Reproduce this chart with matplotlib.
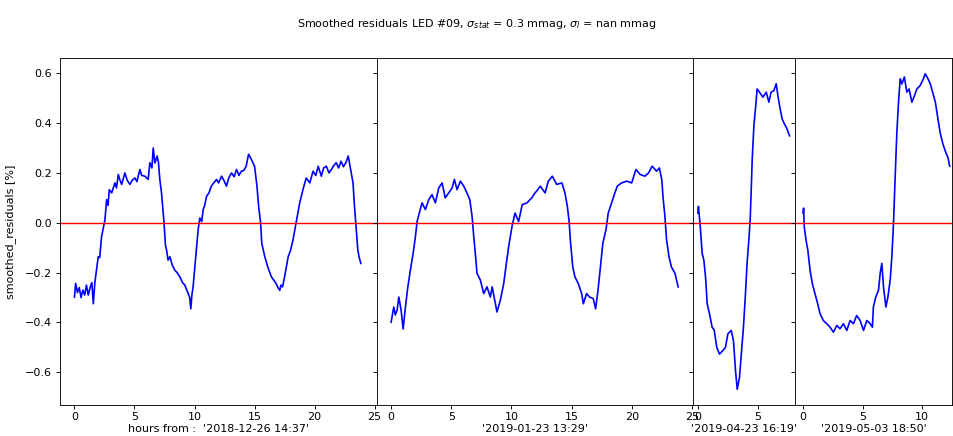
import matplotlib
matplotlib.use('Agg')
import matplotlib.pyplot as plt
from matplotlib.ticker import MultipleLocator

# hours since start of each run and smoothed residuals [%]
h1 = [0.0, 0.1, 0.25, 0.4, 0.55, 0.7, 0.85, 1.0, 1.15, 1.3, 1.45, 1.57, 1.7, 1.98, 2.1,
      2.26, 2.54, 2.68, 2.8, 2.9, 3.1, 3.37, 3.5, 3.65, 3.8, 3.93, 4.2, 4.4, 4.62, 4.8,
      5.03, 5.2, 5.45, 5.6, 5.87, 6.14, 6.28, 6.45, 6.56, 6.7, 6.89, 7.0, 7.11, 7.25, 7.44,
      7.58, 7.67, 7.8, 7.95, 8.15, 8.36, 8.55, 8.78, 9.0, 9.19, 9.35, 9.47, 9.6, 9.69, 9.78,
      9.88, 10.1, 10.3, 10.44, 10.6, 10.72, 10.85, 11.0, 11.2, 11.4, 11.6, 11.83, 12.0, 12.25,
      12.45, 12.66, 12.85, 13.08, 13.3, 13.5, 13.7, 13.9, 14.1, 14.3, 14.5, 14.74, 15.0, 15.2,
      15.34, 15.5, 15.6, 15.85, 16.1, 16.4, 16.6, 16.8, 16.95, 17.1, 17.2, 17.33, 17.5, 17.8,
      18.0, 18.2, 18.5, 18.76, 19.03, 19.3, 19.6, 19.87, 20.1, 20.3, 20.56, 20.75, 20.98, 21.2,
      21.4, 21.6, 21.8, 22.0, 22.2, 22.4, 22.6, 22.8, 23.0, 23.2, 23.3, 23.45, 23.6, 23.7, 23.85]
r1 = [-0.298, -0.243, -0.28, -0.26, -0.3, -0.27, -0.29, -0.25, -0.29, -0.26, -0.24, -0.325, -0.24, -0.136, -0.14,
      -0.055, 0.012, 0.093, 0.07, 0.133, 0.12, 0.16, 0.14, 0.194, 0.17, 0.154, 0.2, 0.17, 0.154, 0.17,
      0.18, 0.165, 0.214, 0.19, 0.187, 0.174, 0.241, 0.22, 0.3, 0.24, 0.268, 0.24, 0.174, 0.12, 0.012,
      -0.09, -0.109, -0.15, -0.136, -0.17, -0.19, -0.2, -0.217, -0.24, -0.25, -0.27, -0.284, -0.3, -0.345, -0.29,
      -0.257, -0.136, -0.028, 0.019, 0.005, 0.053, 0.07, 0.106, 0.12, 0.147, 0.16, 0.174, 0.16, 0.187,
      0.17, 0.147, 0.18, 0.2, 0.185, 0.214, 0.19, 0.207, 0.21, 0.227, 0.275, 0.254, 0.227, 0.147,
      0.066, 0.0, -0.082, -0.136, -0.177, -0.217, -0.23, -0.244, -0.26, -0.271, -0.25, -0.257, -0.217, -0.136,
      -0.11, -0.069, 0.012, 0.08, 0.133, 0.18, 0.16, 0.207, 0.19, 0.227, 0.187, 0.22, 0.227, 0.2,
      0.214, 0.23, 0.241, 0.22, 0.247, 0.225, 0.241, 0.268, 0.214, 0.16, 0.08, -0.015, -0.109, -0.136, -0.163]

h2 = [0.0, 0.22, 0.35, 0.5, 0.64, 0.83, 1.0, 1.19, 1.39, 1.6, 1.83, 2.02, 2.16, 2.38, 2.57,
      2.85, 3.13, 3.4, 3.68, 3.96, 4.24, 4.5, 4.79, 5.07, 5.26, 5.48, 5.76, 6.04, 6.3, 6.54,
      6.73, 6.87, 7.0, 7.14, 7.42, 7.7, 7.97, 8.25, 8.4, 8.67, 8.8, 9.08, 9.36, 9.58, 9.77,
      10.05, 10.3, 10.6, 10.9, 11.3, 11.55, 11.7, 11.96, 12.1, 12.4, 12.8, 13.07, 13.4, 13.76,
      14.2, 14.45, 14.65, 14.8, 14.9, 15.1, 15.28, 15.56, 15.84, 15.98, 16.25, 16.5, 16.8, 17.0,
      17.2, 17.4, 17.6, 17.86, 18.05, 18.33, 18.6, 18.8, 19.16, 19.58, 20.0, 20.35, 20.7, 21.1,
      21.4, 21.7, 22.07, 22.3, 22.5, 22.6, 22.76, 22.9, 23.1, 23.3, 23.6, 23.86]
r2 = [-0.399, -0.338, -0.37, -0.35, -0.298, -0.35, -0.426, -0.338, -0.257, -0.19, -0.123, -0.055, 0.005, 0.046, 0.08,
      0.053, 0.093, 0.113, 0.08, 0.14, 0.16, 0.1, 0.12, 0.14, 0.174, 0.133, 0.167, 0.147, 0.12, 0.093,
      0.026, -0.055, -0.123, -0.203, -0.23, -0.284, -0.257, -0.298, -0.257, -0.325, -0.358, -0.311, -0.244, -0.163, -0.096,
      -0.015, 0.039, 0.005, 0.073, 0.08, 0.093, 0.1, 0.12, 0.127, 0.147, 0.12, 0.167, 0.187, 0.154,
      0.16, 0.12, 0.066, 0.005, -0.069, -0.177, -0.217, -0.244, -0.284, -0.325, -0.284, -0.298, -0.304, -0.345,
      -0.271, -0.177, -0.082, -0.028, 0.039, 0.08, 0.12, 0.147, 0.16, 0.167, 0.16, 0.214, 0.194, 0.187,
      0.2, 0.227, 0.207, 0.22, 0.174, 0.106, 0.026, -0.069, -0.136, -0.177, -0.203, -0.257]

h3 = [0.0, 0.05, 0.2, 0.36, 0.5, 0.64, 0.78, 0.97, 1.19, 1.36, 1.58, 1.8, 2.08, 2.3, 2.5,
      2.78, 2.97, 3.14, 3.28, 3.47, 3.6, 3.8, 3.97, 4.1, 4.25, 4.36, 4.44, 4.53, 4.67, 4.8,
      4.94, 5.14, 5.42, 5.7, 5.92, 6.1, 6.33, 6.53, 6.67, 6.86, 7.03, 7.22, 7.44, 7.64]
r3 = [0.039, 0.066, -0.015, -0.123, -0.15, -0.217, -0.325, -0.365, -0.419, -0.43, -0.5, -0.527, -0.513, -0.5, -0.446,
      -0.432, -0.473, -0.594, -0.668, -0.621, -0.54, -0.419, -0.284, -0.163, -0.069, 0.012, 0.12, 0.254, 0.389, 0.457,
      0.537, 0.524, 0.504, 0.524, 0.484, 0.524, 0.53, 0.558, 0.51, 0.457, 0.416, 0.396, 0.376, 0.349]

h4 = [0.0, 0.05, 0.1, 0.25, 0.4, 0.59, 0.78, 1.0, 1.23, 1.43, 1.7, 1.99, 2.27, 2.55, 2.83,
      3.1, 3.39, 3.67, 3.95, 4.23, 4.5, 4.79, 5.07, 5.35, 5.63, 5.82, 5.9, 6.1, 6.33, 6.47,
      6.61, 6.75, 6.95, 7.12, 7.31, 7.45, 7.59, 7.73, 7.87, 8.01, 8.15, 8.29, 8.5, 8.71, 8.9,
      9.13, 9.35, 9.55, 9.83, 10.1, 10.25, 10.48, 10.67, 10.87, 11.1, 11.32, 11.5, 11.7, 11.93,
      12.16, 12.3]
r4 = [0.039, 0.059, -0.015, -0.069, -0.109, -0.19, -0.244, -0.284, -0.325, -0.365, -0.392, -0.405, -0.419, -0.439, -0.412,
      -0.425, -0.405, -0.432, -0.392, -0.405, -0.372, -0.392, -0.432, -0.392, -0.405, -0.419, -0.338, -0.298, -0.271, -0.203,
      -0.163, -0.257, -0.338, -0.298, -0.23, -0.136, 0.0, 0.187, 0.362, 0.484, 0.578, 0.557, 0.585, 0.524, 0.537,
      0.484, 0.51, 0.537, 0.551, 0.578, 0.598, 0.578, 0.558, 0.524, 0.484, 0.416, 0.362, 0.322, 0.288,
      0.261, 0.227]

labels = ["hours from :  '2018-12-26 14:37'", "'2019-01-23 13:29'",
          "'2019-04-23 16:19'", "'2019-05-03 18:50'"]

hours = [h1, h2, h3, h4]
resid = [r1, r2, r3, r4]

# panel layout (widths in px and x ranges in hours, as in the original figure)
widths = [317, 316, 102, 157]
xlims = [(-1.2, 25.2), (-1.17, 25.1), (-0.4, 8.1), (-0.67, 12.5)]

fig, axes = plt.subplots(1, 4, sharey=True, figsize=(953 / 80, 436 / 80), dpi=80,
                         gridspec_kw={'width_ratios': widths, 'wspace': 0})
fig.subplots_adjust(left=0.063, right=0.999, top=0.867, bottom=0.071)

for ax, h, r, lab, xl in zip(axes, hours, resid, labels, xlims):
    ax.plot(h, r, color='blue', lw=1.5)
    ax.axhline(0, color='red', lw=1.3)
    ax.set_xlim(xl)
    ax.set_xlabel(lab, labelpad=2)
    ax.xaxis.set_major_locator(MultipleLocator(5))
    ax.tick_params(axis='x', pad=2.5)

axes[0].set_ylabel('smoothed_residuals [%]')
axes[0].yaxis.set_label_coords(-0.138, 0.5)
fig.suptitle(r'Smoothed residuals LED #09, $\sigma_{stat}$ = 0.3 mmag, $\sigma_l$ = nan mmag',
             fontsize=10, y=0.96)

plt.savefig('out.png', dpi=80)
